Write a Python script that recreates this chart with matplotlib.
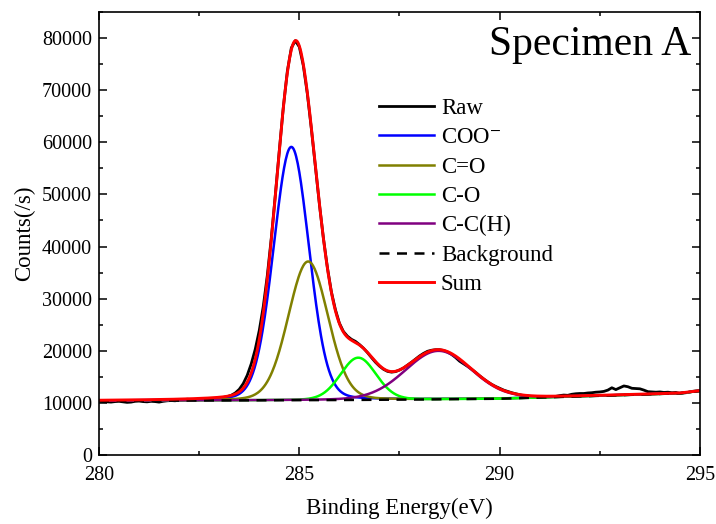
import numpy as np
import matplotlib
matplotlib.use('Agg')
from matplotlib import pyplot as plt
from matplotlib.ticker import MultipleLocator

plt.rcParams['font.family'] = ['Liberation Serif', 'DejaVu Serif']
plt.rcParams['mathtext.fontset'] = 'stix'

# raw spectrum (0.1 eV steps)
raw_energy = np.round(np.arange(280.0, 295.01, 0.1), 1)
raw_counts = [
    10300, 10250, 10200, 10150, 10250, 10300, 10200, 10100, 10150, 10300,
    10350, 10250, 10200, 10300, 10250, 10150, 10300, 10400, 10450, 10400,
    10550, 10600, 10700, 10650, 10550, 10600, 10750, 10700, 10800, 10850,
    10950, 11050, 11200, 11450, 11900, 12600, 13700, 15300, 17500, 20300,
    23900, 28500, 34400, 41600, 49800, 58400, 66700, 73600, 78100, 79500,
    78300, 74700, 69300, 62600, 55400, 48200, 41650, 36000, 31300, 27900,
    25300, 23700, 22800, 22200, 21800, 21200, 20500, 19650, 18700, 17800,
    17050, 16450, 16050, 15900, 16000, 16300, 16700, 17250, 17800, 18400,
    19000, 19500, 19900, 20100, 20200, 20200, 20050, 19750, 19300, 18700,
    18000, 17500, 17000, 16450, 15850, 15200, 14600, 14050, 13550, 13150,
    12800, 12450, 12200, 11950, 11750, 11550, 11400, 11300, 11200, 11150,
    11100, 11120, 11150, 11200, 11250, 11400, 11500, 11450, 11650, 11750,
    11800, 11800, 11900, 11950, 12050, 12100, 12200, 12450, 12900, 12550,
    12900, 13250, 13100, 12800, 12750, 12700, 12450, 12150, 12100, 12050,
    12100, 12000, 12050, 11950, 12000, 11800, 11900, 12000, 12200, 12300,
    12350,
]

# fitted peaks: centre (eV), height above background, FWHM (eV)
peak_names = ['COO$^{-}$', 'C=O', 'C-O', 'C-C(H)']
peak_colors = ['#0000ff', '#808000', '#00ff00', '#800080']
peak_center = [284.80, 285.22, 286.47, 288.47]
peak_height = [48600, 26600, 8100, 9300]
peak_fwhm = [1.04, 1.17, 1.05, 1.95]

# background knots
bg_energy = [280, 284, 286, 288, 290, 291, 292, 293, 294, 294.5, 295]
bg_counts = [10400, 10500, 10550, 10650, 10800, 11030, 11250, 11480, 11720, 11850, 12300]


def pseudo_voigt(x, center, height, fwhm, mix=0.1):
    t = 4 * (x - center) ** 2 / fwhm ** 2
    return height * ((1 - mix) * np.exp(-np.log(2) * t) + mix / (1 + t))


x = np.linspace(280, 295, 751)
background = np.interp(x, bg_energy, bg_counts)
components = [pseudo_voigt(x, c, h, w) for c, h, w in zip(peak_center, peak_height, peak_fwhm)]
total = background + np.sum(components, axis=0)

fig = plt.figure(figsize=(7.16, 5.24), dpi=100)
ax = fig.add_axes([99 / 716, 69 / 524, 601 / 716, 443 / 524])

ax.plot(raw_energy, raw_counts, color='black', lw=2.0, label='Raw')
for comp, name, col in zip(components, peak_names, peak_colors):
    ax.plot(x, background + comp, color=col, lw=1.8, label=name)
ax.plot(bg_energy, bg_counts, color='black', lw=1.8, ls=(0, (4, 3)), label='Background')
ax.plot(x, total, color='#ff0000', lw=2.1, label='Sum')

ax.set_xlim(280, 295)
ax.set_ylim(0, 85000)
ax.xaxis.set_major_locator(MultipleLocator(5))
ax.xaxis.set_minor_locator(MultipleLocator(2.5))
ax.yaxis.set_major_locator(MultipleLocator(10000))
ax.yaxis.set_minor_locator(MultipleLocator(5000))
ax.tick_params(which='both', direction='in', top=True, right=True, width=1.1, labelsize=14.5)
ax.tick_params(which='major', length=6)
ax.tick_params(which='minor', length=3)
ax.tick_params(axis='x', pad=8)
ax.tick_params(axis='y', pad=5)
for sp in ax.spines.values():
    sp.set_linewidth(1.2)

ax.set_xlabel('Binding Energy(eV)', fontsize=16.5, labelpad=9)
ax.set_ylabel('Counts(/s)', fontsize=16.5, labelpad=5)

ax.text(0.985, 0.925, 'Specimen A', transform=ax.transAxes, ha='right', va='center', fontsize=30)

ax.legend(loc='upper left', bbox_to_anchor=(0.466, 0.806), frameon=False, fontsize=16.5,
          handlelength=2.4, handletextpad=0.3, labelspacing=0.36, borderaxespad=0, borderpad=0)

fig.savefig('out.png', dpi=100)
